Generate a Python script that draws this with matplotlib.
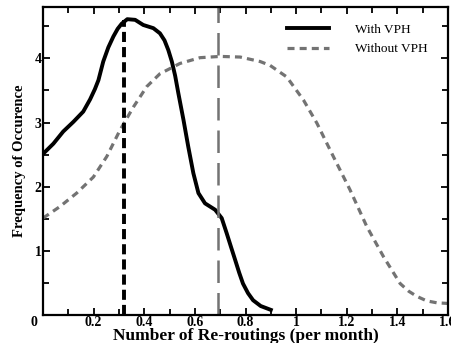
import matplotlib
matplotlib.use("Agg")
import matplotlib.pyplot as plt
from matplotlib.ticker import MultipleLocator

# With VPH curve
with_x = [0.0, 0.041, 0.080, 0.12, 0.159, 0.186, 0.205, 0.219, 0.238, 0.258, 0.278, 0.295, 0.311,
          0.333, 0.364, 0.396, 0.436, 0.462, 0.48, 0.495, 0.509, 0.522, 0.535, 0.555, 0.574,
          0.594, 0.614, 0.640, 0.68, 0.706, 0.726, 0.742, 0.759, 0.775, 0.79, 0.81, 0.83,
          0.86, 0.9]
with_y = [2.51, 2.67, 2.86, 3.01, 3.17, 3.36, 3.52, 3.66, 3.95, 4.17, 4.34, 4.46, 4.54,
          4.61, 4.6, 4.52, 4.47, 4.39, 4.28, 4.13, 3.95, 3.73, 3.45, 3.04, 2.62,
          2.21, 1.90, 1.74, 1.64, 1.51, 1.27, 1.07, 0.86, 0.66, 0.49, 0.34, 0.23,
          0.14, 0.08]

# Without VPH curve
without_x = [0.0, 0.067, 0.133, 0.199, 0.252, 0.304, 0.357, 0.41, 0.462, 0.541, 0.62, 0.70,
             0.779, 0.858, 0.897, 0.963, 1.029, 1.082, 1.147, 1.213, 1.279, 1.345, 1.411,
             1.445, 1.477, 1.516, 1.556, 1.6]
without_y = [1.51, 1.69, 1.90, 2.15, 2.47, 2.88, 3.24, 3.56, 3.76, 3.92, 4.01, 4.03,
             4.02, 3.95, 3.89, 3.71, 3.35, 2.99, 2.47, 1.95, 1.38, 0.91, 0.49,
             0.37, 0.29, 0.22, 0.19, 0.18]

with_peak_x = 0.32
with_peak_y = 4.6
without_peak_x = 0.693

series_labels = ["With VPH", "Without VPH"]
xlabel = "Number of Re-routings (per month)"
ylabel = "Frequency of Occurence"
xticks = [0.2, 0.4, 0.6, 0.8, 1.0, 1.2, 1.4, 1.6]
xticklabels = ["0.2", "0.4", "0.6", "0.8", "1", "1.2", "1.4", "1.6"]
yticks = [1, 2, 3, 4]

plt.rcParams['font.family'] = ['Liberation Serif', 'DejaVu Serif']

fig = plt.figure(figsize=(4.51, 3.43), dpi=100)
ax = fig.add_axes([43/451, 28/343, 405/451, 308/343])

gray = "#737373"
ax.plot(with_x, with_y, color="black", lw=2.8, label=series_labels[0], solid_joinstyle="round")
ax.plot(without_x, without_y, color=gray, lw=2.3, dashes=(2.2, 1.6), label=series_labels[1])
ax.plot([with_peak_x, with_peak_x], [0, with_peak_y], color="black", lw=2.8, dashes=(2.6, 1.3))
ax.plot([without_peak_x, without_peak_x], [0, 4.8], color=gray, lw=1.8, dashes=(9, 4))

ax.set_xlim(0, 1.6)
ax.set_ylim(0, 4.8)
ax.set_xticks(xticks)
ax.set_xticklabels(xticklabels, fontweight="bold", fontsize=10)
ax.set_yticks(yticks)
ax.set_yticklabels([str(v) for v in yticks], fontweight="bold", fontsize=10)
ax.xaxis.set_minor_locator(MultipleLocator(0.1))
ax.yaxis.set_minor_locator(MultipleLocator(0.5))
ax.tick_params(which="both", direction="in", top=True, right=True, width=1.3)
ax.tick_params(which="major", length=5, pad=1)
ax.tick_params(which="minor", length=4)
for s in ax.spines.values():
    s.set_linewidth(1.6)

fig.text(34/451, 1 - 322/343, "0", fontweight="bold", fontsize=10, ha="center", va="center")

ax.set_xlabel(xlabel, fontweight="bold", fontsize=12.5, labelpad=-1)
ax.set_ylabel(ylabel, fontweight="bold", fontsize=10.5, labelpad=6)

leg = ax.legend(loc="upper right", bbox_to_anchor=(0.98, 0.985), frameon=False, fontsize=9.5,
                handlelength=3.2, handletextpad=2.0, labelspacing=0.55)

fig.savefig("out.png", dpi=100)
